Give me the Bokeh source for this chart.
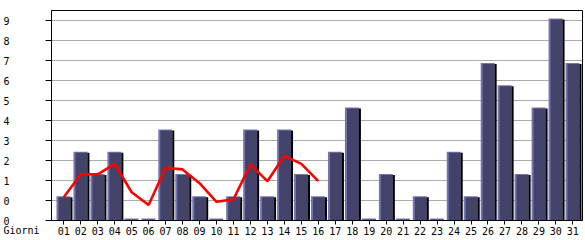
from bokeh.plotting import figure
from bokeh.models import Range1d, FixedTicker, CustomJSTickFormatter, Title, ColumnDataSource
from bokeh.embed import file_html
from bokeh.resources import INLINE

# ---- data ----
days = ["%02d" % d for d in range(1, 32)]
day_pos = list(range(1, 32))
visits = [1, 3, 2, 3, 0, 0, 4, 2, 1, 0, 1, 4, 1, 4, 2, 1, 3, 5, 0, 2, 0, 1, 0, 3, 1, 7, 6, 2, 5, 9, 7]
trend_pos = list(range(1, 17))
trend = [1.05, 2.08, 2.08, 2.55, 1.27, 0.70, 2.37, 2.30, 1.68, 0.84, 0.95, 2.52, 1.77, 2.91, 2.55, 1.77]
y_ticks = [0, 0.9, 1.8, 2.7, 3.6, 4.5, 5.4, 6.3, 7.2, 8.1, 9.0]
x_label = "Giorni"

FONT = "DejaVu Sans Mono"
PX_X = 1.0 / 17.0
PX_Y = 9.0 / 200.0

p = figure(width=585, height=240, output_backend="svg", toolbar_location=None,
           x_range=Range1d(1 - 12.3 * PX_X, 31 + 9.7 * PX_X),
           y_range=Range1d(0, 210 * PX_Y),
           min_border_left=50, min_border_right=3, min_border_top=10, min_border_bottom=20)
p.background_fill_color = "white"
p.border_fill_color = "white"
p.outline_line_color = "black"
p.outline_line_width = 1

# bars
x0 = [d - 7.3 * PX_X for d in day_pos]
x1 = [d + 6.7 * PX_X for d in day_pos]
src = ColumnDataSource(dict(
    hl_l=x0, hl_r=x1, hl_t=[v + 2 * PX_Y for v in visits],
    f_l=[a + 2 * PX_X for a in x0], f_r=x1, f_t=[v + 1 * PX_Y for v in visits],
    s_l=x1, s_r=[d + 8.7 * PX_X for d in day_pos], s_t=[v + 1 * PX_Y if v > 0 else 0 for v in visits],
    b=[0] * len(visits)))
p.quad(left="hl_l", right="hl_r", bottom="b", top="hl_t", source=src, fill_color="#7474b4", line_color=None)
p.quad(left="f_l", right="f_r", bottom="b", top="f_t", source=src, fill_color="#434369", line_color=None)
p.quad(left="s_l", right="s_r", bottom="b", top="s_t", source=src, fill_color="black", line_color=None)

p.line(trend_pos, trend, line_color="#ff0000", line_width=2.6)

# axes
p.xaxis.ticker = FixedTicker(ticks=day_pos)
p.xaxis.formatter = CustomJSTickFormatter(code="return (tick < 10 ? '0' : '') + tick;")
p.yaxis.ticker = FixedTicker(ticks=y_ticks)
p.yaxis.formatter = CustomJSTickFormatter(code="return Math.floor(tick + 1e-6).toString();")
for ax in (p.xaxis, p.yaxis):
    ax.axis_line_color = "black"
    ax.major_tick_line_color = "black"
    ax.minor_tick_line_color = None
    ax.major_tick_in = 0
    ax.major_label_text_font = FONT
    ax.major_label_text_font_size = "10px"
    ax.major_label_text_color = "black"
p.xaxis.major_tick_out = 4
p.xaxis.major_label_standoff = 2
p.yaxis.major_tick_out = 6
p.yaxis.major_label_standoff = 36

p.xgrid.grid_line_color = None
p.ygrid.ticker = FixedTicker(ticks=y_ticks)
p.ygrid.grid_line_color = "#aaaaaa"

p.add_layout(Title(text=x_label, align="left", offset=-48, standoff=-26, vertical_align="top",
                   text_font=FONT, text_font_size="10px", text_font_style="normal",
                   text_color="black"), "below")

open("out.html", "w").write(file_html(p, INLINE))
